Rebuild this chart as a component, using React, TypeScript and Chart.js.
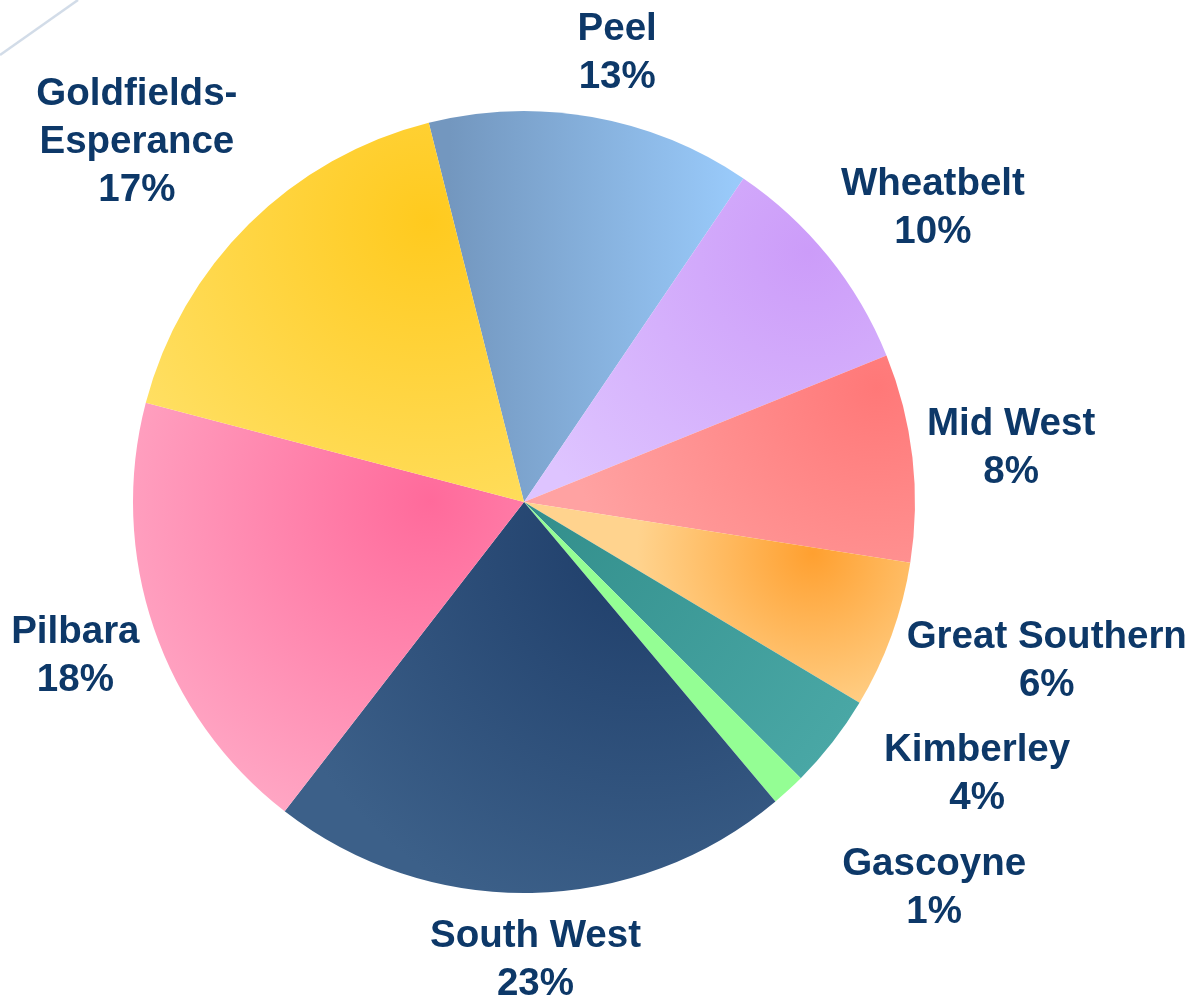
import React, { useEffect, useRef } from "react";
import { Chart, registerables } from "chart.js";

Chart.register(...registerables);

// ---- data ----
const regions = [
  "Peel",
  "Wheatbelt",
  "Mid West",
  "Great Southern",
  "Kimberley",
  "Gascoyne",
  "South West",
  "Pilbara",
  "Goldfields-Esperance",
];
const labelLines = [
  ["Peel"],
  ["Wheatbelt"],
  ["Mid West"],
  ["Great Southern"],
  ["Kimberley"],
  ["Gascoyne"],
  ["South West"],
  ["Pilbara"],
  ["Goldfields-", "Esperance"],
];
const shares = [13.4, 9.4, 8.6, 6.1, 3.9, 1.4, 21.6, 18.6, 17.0];
const percentLabels = ["13%", "10%", "8%", "6%", "4%", "1%", "23%", "18%", "17%"];

// ---- styles ----
const innerColors = ["#7397BF", "#CC9CF9", "#FF7878", "#FFA030", "#328E8B", "#94FE94", "#1E3D69", "#FF6A9B", "#FFCA1E"];
const outerColors = ["#99CAFA", "#DEC4FF", "#FFA2A2", "#FFD38E", "#49A7A5", "#94FE94", "#3C6089", "#FFABC7", "#FFDF62"];
// focus of each slice's radial shading: angle (deg clockwise from top), distance & size as fraction of radius
const focusAngle = [0, 48.6, 72, 100, 120, 0, 110, 271, 341];
const focusDist = [0, 0.97, 0.95, 0.75, 0.0, 0, 0.32, 0.24, 0.76];
const focusSize = [1, 0.85, 0.8, 0.45, 1.0, 1, 1.0, 0.95, 0.85];
// label placement relative to slice mid-angle
const labelShift = [1.65, 3.1, 0, -3.2, -7.05, -4.35, -0.3, 0, -2.25];
const labelDist = [1.178, 1.29, 1.254, 1.396, 1.35, 1.437, 1.167, 1.212, 1.355];

const TEXT_COLOR = "#0D3868";
const FONT = "bold 38.5px 'Liberation Sans', Arial, sans-serif";
const LINE_H = 48;

function sliceFill(c: any) {
  const i = c.dataIndex;
  const chart = c.chart;
  const area = chart.chartArea;
  if (!area || i === undefined) return outerColors[i ?? 0];
  const cx = (area.left + area.right) / 2;
  const cy = (area.top + area.bottom) / 2;
  const r = Math.min(area.width, area.height) / 2;
  const g = chart.ctx;
  if (i === 0) {
    const lg = g.createLinearGradient(cx - 0.19 * r, cy, cx + 0.54 * r, cy);
    lg.addColorStop(0, innerColors[0]);
    lg.addColorStop(1, outerColors[0]);
    return lg;
  }
  if (innerColors[i] === outerColors[i]) return innerColors[i];
  const a = ((focusAngle[i] - 90) * Math.PI) / 180;
  const fx = cx + Math.cos(a) * focusDist[i] * r;
  const fy = cy + Math.sin(a) * focusDist[i] * r;
  const rg = g.createRadialGradient(fx, fy, 0, fx, fy, focusSize[i] * r);
  rg.addColorStop(0, innerColors[i]);
  rg.addColorStop(1, outerColors[i]);
  return rg;
}

const labelPlugin = {
  id: "outerLabels",
  beforeDraw(chart: any) {
    const g = chart.ctx;
    g.save();
    g.strokeStyle = "rgba(205,216,230,0.9)";
    g.lineWidth = 2.5;
    g.beginPath();
    g.moveTo(0, 55);
    g.lineTo(78, 0);
    g.stroke();
    g.restore();
  },
  afterDatasetsDraw(chart: any) {
    const g = chart.ctx;
    const meta = chart.getDatasetMeta(0);
    g.save();
    g.font = FONT;
    g.fillStyle = TEXT_COLOR;
    g.textAlign = "center";
    g.textBaseline = "middle";
    meta.data.forEach((arc: any, i: number) => {
      const p = arc.getProps(["x", "y", "startAngle", "endAngle", "outerRadius"], true);
      const mid = (p.startAngle + p.endAngle) / 2 + (labelShift[i] * Math.PI) / 180;
      const d = p.outerRadius * labelDist[i];
      const lx = p.x + Math.cos(mid) * d;
      const ly = p.y + Math.sin(mid) * d + 2;
      const lines = [...labelLines[i], percentLabels[i]];
      const top = ly - (LINE_H * (lines.length - 1)) / 2;
      lines.forEach((t, k) => g.fillText(t, lx, top + k * LINE_H));
    });
    g.restore();
  },
};

export default function App() {
  const ref = useRef<HTMLCanvasElement | null>(null);
  useEffect(() => {
    if (!ref.current) return;
    const chart = new Chart(ref.current, {
      type: "pie",
      data: {
        labels: regions,
        datasets: [
          {
            data: shares,
            backgroundColor: sliceFill as any,
            borderWidth: 0,
          },
        ],
      },
      options: {
        responsive: false,
        animation: false,
        rotation: -14.1,
        layout: { padding: { left: 133, right: 277, top: 111, bottom: 104 } },
        plugins: {
          legend: { display: false },
          tooltip: { enabled: false },
        },
      },
      plugins: [labelPlugin],
    });
    return () => chart.destroy();
  }, []);
  return (
    <div style={{ position: "fixed", left: 0, top: 0, width: 1192, height: 997, background: "#fff" }}>
      <canvas ref={ref} width={1192} height={997} style={{ display: "block" }} />
    </div>
  );
}
